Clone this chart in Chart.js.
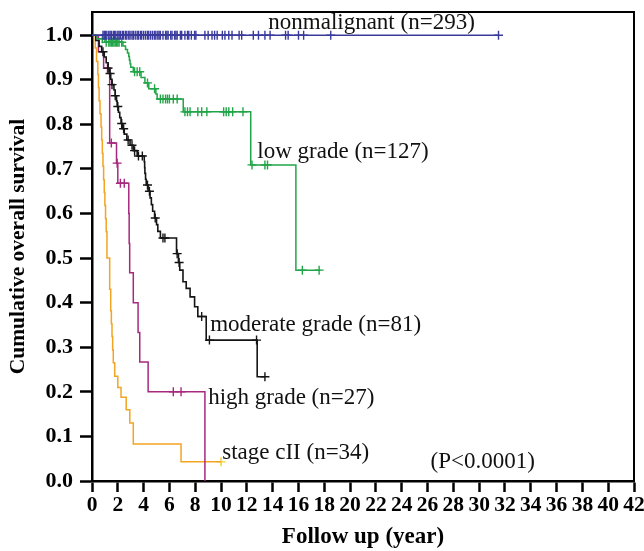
<!DOCTYPE html>
<html>
<head>
<meta charset="utf-8">
<script src="https://cdn.jsdelivr.net/npm/chart.js@4.4.1/dist/chart.umd.min.js"></script>
<style>
  body { margin: 0; background: #fff; }
  canvas { display: block; }
</style>
</head>
<body>
<canvas id="kmChart" width="644" height="551"></canvas>
<script>
// Kaplan-Meier survival by group

var xTicks = [0, 2, 4, 6, 8, 10, 12, 14, 16, 18, 20, 22, 24, 26, 28, 30, 32, 34, 36, 38, 40, 42];
var yTicks = [0, 0.1, 0.2, 0.3, 0.4, 0.5, 0.6, 0.7, 0.8, 0.9, 1.0];

var groupNames = ['nonmalignant (n=293)', 'low grade (n=127)', 'moderate grade (n=81)', 'high grade (n=27)', 'stage cII (n=34)'];

// nonmalignant
var nonmalTimes = [0, 31.5];
var nonmalSurv = [1, 1];
var nonmalCensor = [0.85, 0.95, 1.05, 1.15, 1.3, 1.4, 1.5, 1.65, 1.75, 1.85, 2.0, 2.1, 2.2, 2.35, 2.45, 2.6, 2.7,
  2.85, 2.95, 3.1, 3.2, 3.35, 3.5, 3.6, 3.75, 3.85, 4.0, 4.15, 4.3, 4.4, 4.55, 4.7, 4.85, 4.95, 5.1, 5.2, 5.3,
  5.5, 5.7, 5.8, 5.9, 6.1, 6.2, 6.4, 6.5, 6.6, 6.85, 6.95, 7.2, 7.4, 7.5, 7.7, 7.95, 8.05, 8.75, 9.0, 9.3, 9.5,
  9.7, 10.1, 10.3, 10.6, 10.85, 11.4, 11.6, 12.5, 12.9, 13.4, 13.8, 15.0, 15.2, 16.0, 16.4, 18.5, 31.5];

// low grade
var lowTimes = [0, 0.4, 1.0, 2.4, 2.6, 2.75, 2.85, 2.9, 2.95, 3.0, 3.2, 3.8, 4.1, 4.4, 4.95, 5.05, 7.07, 12.3, 15.8, 17.7];
var lowSurv = [1, 0.992, 0.984, 0.976, 0.968, 0.96, 0.952, 0.944, 0.936, 0.928, 0.918, 0.905, 0.893, 0.88, 0.868, 0.857, 0.828, 0.709, 0.473, 0.473];
var lowCensor = [0.8, 1.1, 1.3, 1.4, 1.5, 1.6, 1.7, 1.8, 1.9, 2.0, 2.1, 2.3, 3.3, 3.5, 3.7, 4.3, 4.85, 5.3, 5.5,
  5.7, 5.85, 6.0, 6.3, 6.6, 7.2, 7.4, 7.6, 8.2, 8.5, 8.9, 10.2, 10.4, 10.6, 10.9, 11.7, 12.4, 13.4, 13.6, 16.3, 17.6];

// moderate grade
var modTimes = [0, 0.3, 0.55, 0.75, 0.95, 1.1, 1.25, 1.35, 1.45, 1.55, 1.7, 1.8, 1.9, 1.95, 2.05, 2.15, 2.25, 2.35,
  2.5, 2.7, 2.95, 3.2, 3.5, 4.05, 4.08, 4.1, 4.15, 4.2, 4.35, 4.5, 4.6, 4.7, 4.85, 5.0, 5.1, 5.3, 6.55, 6.7, 6.8,
  7.05, 7.3, 7.6, 7.95, 8.2, 8.85, 12.8, 13.4];
var modSurv = [1, 0.988, 0.975, 0.963, 0.951, 0.938, 0.926, 0.914, 0.901, 0.889, 0.877, 0.864, 0.852, 0.84, 0.827,
  0.815, 0.802, 0.79, 0.778, 0.765, 0.753, 0.741, 0.729, 0.716, 0.703, 0.69, 0.677, 0.664, 0.65, 0.635, 0.62, 0.605,
  0.59, 0.575, 0.56, 0.545, 0.51, 0.49, 0.473, 0.447, 0.432, 0.413, 0.391, 0.369, 0.316, 0.234, 0.234];
var modCensor = [0.85, 1.25, 1.4, 1.55, 1.8, 2.0, 2.3, 2.45, 2.8, 3.1, 3.3, 3.6, 3.9, 4.3, 4.45, 4.9, 5.5, 5.65,
  6.6, 6.75, 8.5, 9.1, 12.75, 13.4];

// high grade
var highTimes = [0, 0.5, 0.9, 1.37, 1.9, 2.0, 2.85, 2.88, 2.92, 3.2, 3.57, 3.7, 4.35, 8.75];
var highSurv = [1, 0.963, 0.926, 0.758, 0.713, 0.668, 0.6, 0.533, 0.467, 0.4, 0.333, 0.267, 0.2, 0];
var highCensor = [1.2, 1.5, 1.95, 2.2, 2.5, 6.3, 6.9];

// stage cII
var stageTimes = [0, 0.25, 0.35, 0.45, 0.5, 0.55, 0.62, 0.7, 0.75, 0.8, 0.85, 0.9, 0.95, 1.0, 1.05, 1.1, 1.16,
  1.37, 1.45, 1.5, 1.55, 1.6, 1.65, 1.76, 2.0, 2.25, 2.65, 2.93, 3.2, 6.9, 10.0];
var stageSurv = [1, 0.971, 0.941, 0.912, 0.882, 0.853, 0.824, 0.794, 0.765, 0.735, 0.706, 0.676, 0.647, 0.618,
  0.588, 0.559, 0.5, 0.43, 0.382, 0.353, 0.324, 0.294, 0.265, 0.235, 0.21, 0.188, 0.16, 0.13, 0.083, 0.043, 0.043];
var stageCensor = [10.0];

var pValueText = '(P<0.0001)';

// where the text labels sit, in data units
var labelSpots = [
  { text: groupNames[0], x: 13.66, y: 1.028 },
  { text: groupNames[1], x: 12.81, y: 0.738 },
  { text: groupNames[2], x: 9.16, y: 0.35 },
  { text: groupNames[3], x: 9.0, y: 0.186 },
  { text: groupNames[4], x: 10.09, y: 0.063 },
  { text: pValueText, x: 26.24, y: 0.043 }
];

function toPoints(times, surv) {
  return times.map(function (t, i) { return { x: t, y: surv[i] }; });
}

// censored subjects sit on the curve at their time
function censorPoints(censor, times, surv) {
  return censor.map(function (c) {
    var s = surv[0];
    for (var i = 0; i < times.length; i++) {
      if (times[i] <= c) s = surv[i];
    }
    return { x: c, y: s };
  });
}

function curve(label, times, surv, color, width) {
  return {
    label: label,
    data: toPoints(times, surv),
    borderColor: color,
    borderWidth: width,
    stepped: 'before',
    pointRadius: 0,
    fill: false
  };
}

function marks(label, censor, times, surv, color) {
  return {
    label: label + ' censored',
    data: censorPoints(censor, times, surv),
    showLine: false,
    pointStyle: 'cross',
    pointRadius: 4.5,
    pointBorderWidth: 1.4,
    pointBorderColor: color,
    borderColor: color,
    backgroundColor: color
  };
}

var blue = '#3a3a9c';
var green = '#22a548';
var black = '#151515';
var magenta = '#a6297e';
var orange = '#f3a423';

var datasets = [
  curve(groupNames[0], nonmalTimes, nonmalSurv, blue, 1.4),
  marks(groupNames[0], nonmalCensor, nonmalTimes, nonmalSurv, blue),
  curve(groupNames[1], lowTimes, lowSurv, green, 1.5),
  marks(groupNames[1], lowCensor, lowTimes, lowSurv, green),
  curve(groupNames[2], modTimes, modSurv, black, 1.6),
  marks(groupNames[2], modCensor, modTimes, modSurv, black),
  curve(groupNames[3], highTimes, highSurv, magenta, 1.5),
  marks(groupNames[3], highCensor, highTimes, highSurv, magenta),
  curve(groupNames[4], stageTimes, stageSurv, orange, 1.5),
  marks(groupNames[4], stageCensor, stageTimes, stageSurv, '#f0d030')
];

var serif = '"Liberation Serif", "Times New Roman", serif';

// box around the plot and the group labels
var framePlugin = {
  id: 'frame',
  beforeDatasetsDraw: function (chart) {
    var a = chart.chartArea;
    var ctx = chart.ctx;
    ctx.save();
    ctx.strokeStyle = '#000';
    ctx.lineWidth = 2;
    ctx.beginPath();
    ctx.moveTo(a.left, a.top);
    ctx.lineTo(a.right, a.top);
    ctx.lineTo(a.right, a.bottom);
    ctx.stroke();
    ctx.restore();
  },
  afterDatasetsDraw: function (chart) {
    var ctx = chart.ctx;
    var xs = chart.scales.x;
    var ys = chart.scales.y;
    ctx.save();
    ctx.fillStyle = '#111';
    ctx.font = '23px ' + serif;
    ctx.textAlign = 'left';
    ctx.textBaseline = 'middle';
    labelSpots.forEach(function (l) {
      ctx.fillText(l.text, xs.getPixelForValue(l.x), ys.getPixelForValue(l.y));
    });
    ctx.restore();
  }
};

var ctx = document.getElementById('kmChart').getContext('2d');

var kmChart = new Chart(ctx, {
  type: 'line',
  data: { datasets: datasets },
  options: {
    responsive: false,
    animation: false,
    layout: { padding: { top: 12, right: 10, left: 0, bottom: 0 } },
    plugins: {
      legend: { display: false },
      tooltip: { enabled: false }
    },
    scales: {
      x: {
        type: 'linear',
        min: 0,
        max: 42,
        afterFit: function (scale) {
          scale.height = 70;
          scale.paddingLeft = 0;
          scale.paddingRight = 0;
        },
        afterBuildTicks: function (scale) {
          scale.ticks = xTicks.map(function (v) { return { value: v }; });
        },
        ticks: {
          color: '#000',
          font: { family: serif, size: 21.5, weight: 'bold' },
          padding: 1,
          maxRotation: 0,
          autoSkip: false,
          callback: function (v) { return String(v); }
        },
        grid: { drawOnChartArea: false, drawTicks: true, tickLength: 11, tickWidth: 2.5, color: '#000' },
        border: { display: true, color: '#000', width: 2.5 },
        title: {
          display: true,
          text: 'Follow up (year)',
          color: '#000',
          font: { family: serif, size: 23, weight: 'bold' },
          padding: { top: 0, bottom: 0 }
        }
      },
      y: {
        type: 'linear',
        min: 0,
        max: 1.052,
        afterFit: function (scale) {
          scale.width = 92;
          scale.paddingTop = 0;
          scale.paddingBottom = 0;
        },
        afterBuildTicks: function (scale) {
          scale.ticks = yTicks.map(function (v) { return { value: v }; });
        },
        ticks: {
          color: '#000',
          font: { family: serif, size: 22, weight: 'bold' },
          padding: 7,
          callback: function (v) { return Number(v).toFixed(1); }
        },
        grid: { drawOnChartArea: false, drawTicks: true, tickLength: 12, tickWidth: 2.5, color: '#000' },
        border: { display: true, color: '#000', width: 2.5 },
        title: {
          display: true,
          text: 'Cumulative overall survival',
          color: '#000',
          font: { family: serif, size: 21.5, weight: 'bold' },
          padding: { top: 6, bottom: 0 }
        }
      }
    }
  },
  plugins: [framePlugin]
});
</script>
</body>
</html>
